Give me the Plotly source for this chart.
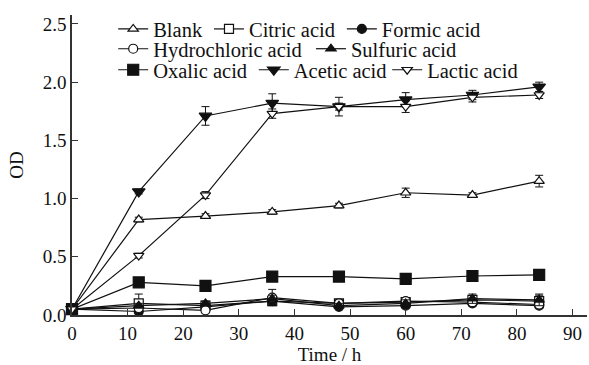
import plotly.graph_objects as go

time_h = [0, 12, 24, 36, 48, 60, 72, 84]

names = ["Blank", "Citric acid", "Formic acid", "Hydrochloric acid",
         "Sulfuric acid", "Oxalic acid", "Acetic acid", "Lactic acid"]

blank = [0.05, 0.82, 0.85, 0.885, 0.94, 1.05, 1.03, 1.15]
citric = [0.05, 0.10, 0.08, 0.12, 0.10, 0.11, 0.13, 0.12]
formic = [0.05, 0.03, 0.07, 0.12, 0.07, 0.08, 0.10, 0.08]
hydrochloric = [0.05, 0.06, 0.04, 0.15, 0.10, 0.12, 0.11, 0.09]
sulfuric = [0.05, 0.08, 0.10, 0.14, 0.08, 0.10, 0.14, 0.13]
oxalic = [0.05, 0.28, 0.25, 0.33, 0.33, 0.31, 0.335, 0.345]
acetic = [0.05, 1.06, 1.71, 1.82, 1.79, 1.85, 1.89, 1.96]
lactic = [0.05, 0.51, 1.03, 1.73, 1.79, 1.79, 1.87, 1.89]

blank_err = [0.0, 0.02, 0.02, 0.02, 0.02, 0.04, 0.02, 0.05]
citric_err = [0.0, 0.08, 0.02, 0.03, 0.03, 0.03, 0.03, 0.05]
formic_err = [0.0, 0.02, 0.02, 0.03, 0.02, 0.02, 0.02, 0.02]
hydrochloric_err = [0.0, 0.02, 0.02, 0.07, 0.03, 0.03, 0.03, 0.03]
sulfuric_err = [0.0, 0.02, 0.02, 0.03, 0.02, 0.03, 0.04, 0.05]
oxalic_err = [0.0, 0.02, 0.02, 0.03, 0.03, 0.02, 0.04, 0.02]
acetic_err = [0.0, 0.02, 0.08, 0.08, 0.08, 0.06, 0.04, 0.04]
lactic_err = [0.0, 0.02, 0.03, 0.04, 0.03, 0.05, 0.04, 0.03]

series = [blank, citric, formic, hydrochloric, sulfuric, oxalic, acetic, lactic]
errors = [blank_err, citric_err, formic_err, hydrochloric_err, sulfuric_err,
          oxalic_err, acetic_err, lactic_err]
symbols = ["triangle-up", "square", "circle", "circle", "triangle-up",
           "square", "triangle-down", "triangle-down"]
filled = [False, False, True, False, True, True, True, False]
sizes = [9, 9, 9, 9, 9, 11, 11, 9]

# legend entry positions (paper coords): three rows like the reference
legend_x = [0.080, 0.266, 0.524, 0.080, 0.464, 0.080, 0.353, 0.612]
legend_y = [0.953, 0.953, 0.953, 0.887, 0.887, 0.817, 0.817, 0.817]

font = "Liberation Serif"
fs = 20.5

fig = go.Figure()
layout_legends = {}
for i, (name, ys, err, sym, fl, sz) in enumerate(zip(names, series, errors, symbols,
                                                      filled, sizes)):
    lg = "legend" if i == 0 else f"legend{i + 1}"
    fig.add_trace(go.Scatter(
        x=time_h, y=ys, name=name, mode="lines+markers",
        line=dict(color="#111", width=1.2),
        marker=dict(symbol=sym, size=sz, color="#111" if fl else "white",
                    line=dict(color="#111", width=1.2)),
        error_y=dict(type="data", array=err, visible=True, color="#111",
                     thickness=1, width=4),
        cliponaxis=False, legend=lg, showlegend=True,
    ))
    layout_legends[lg] = dict(
        x=legend_x[i], y=legend_y[i], orientation="h",
        xanchor="left", yanchor="middle", bgcolor="rgba(0,0,0,0)",
        font=dict(family=font, size=fs, color="#111"), itemwidth=30,
    )

fig.update_layout(
    width=589, height=365, showlegend=True,
    margin=dict(l=72, r=2, t=15, b=50),
    paper_bgcolor="white", plot_bgcolor="white",
    font=dict(family=font, size=19, color="#111"),
    xaxis=dict(range=[0, 92.6], tickvals=list(range(0, 100, 10)),
               ticks="inside", ticklen=6, tickwidth=1.2, tickcolor="#333",
               showline=True, linecolor="#333", linewidth=1.5,
               showgrid=False, zeroline=False,
               tickfont=dict(family=font, size=19),
               title=dict(text="Time / h", standoff=7,
                          font=dict(family=font, size=19))),
    yaxis=dict(range=[0, 2.577], tickvals=[0, 0.5, 1.0, 1.5, 2.0, 2.5],
               ticktext=["0.0", "0.5", "1.0", "1.5", "2.0", "2.5"],
               ticks="inside", ticklen=6, tickwidth=1.2, tickcolor="#333",
               showline=True, linecolor="#333", linewidth=1.5,
               showgrid=False, zeroline=False,
               tickfont=dict(family=font, size=19),
               title=dict(text="OD", standoff=14,
                          font=dict(family=font, size=19))),
    **layout_legends,
)

fig.write_html("out.html")
